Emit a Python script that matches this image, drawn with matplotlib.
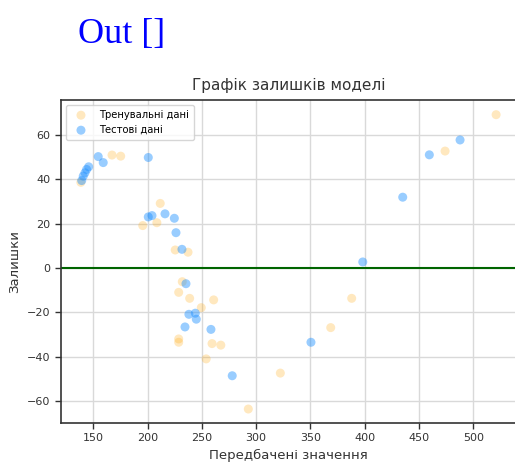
import matplotlib
matplotlib.use("Agg")
import matplotlib.pyplot as plt

# Training residuals: predicted value, residual
train_pred = [138.6, 167.3, 175.3, 211.7, 208.6, 195.6, 225.5, 237.3, 232.0, 228.7,
              238.8, 260.9, 249.5, 228.7, 228.7, 259.4, 267.5, 254.0, 292.8, 322.3,
              368.7, 388.0, 474.0, 521.0]
train_resid = [38.6, 50.9, 50.4, 29.1, 20.4, 19.1, 8.1, 7.1, -6.2, -11.0,
               -13.7, -14.4, -17.9, -32.0, -33.5, -34.1, -34.8, -41.0, -63.6, -47.4,
               -26.9, -13.7, 52.7, 69.1]

# Test residuals: predicted value, residual
test_pred = [145.8, 143.9, 142.4, 140.8, 139.4, 154.6, 159.2, 200.7, 200.7, 204.1,
             216.1, 224.7, 226.2, 231.7, 235.4, 238.1, 244.0, 244.9, 234.5, 258.4,
             278.0, 350.5, 398.2, 435.0, 459.5, 487.8]
test_resid = [45.6, 44.4, 42.9, 41.4, 39.4, 50.2, 47.5, 49.8, 23.0, 23.6,
              24.4, 22.4, 15.9, 8.4, -7.1, -20.9, -20.4, -23.1, -26.6, -27.7,
              -48.6, -33.5, 2.7, 31.9, 51.0, 57.7]

x_ticks = [150, 200, 250, 300, 350, 400, 450, 500]
y_ticks = [-60, -40, -20, 0, 20, 40, 60]

fig = plt.figure(figsize=(5.15, 4.63), dpi=100)
fig.text(0.151, 0.907, "Out []", color="blue", fontsize=26,
         family="Liberation Serif", va="baseline")

ax = fig.add_axes([0.1184, 0.0864, 0.885, 0.698])
ax.scatter(train_pred, train_resid, color="orange", alpha=0.25, s=42,
           edgecolors="none", label="Тренувальні дані", zorder=3)
ax.scatter(test_pred, test_resid, color="dodgerblue", alpha=0.45, s=42,
           edgecolors="none", label="Тестові дані", zorder=3)
ax.axhline(0, color="darkgreen", linewidth=1.5, zorder=2)

ax.set_xlim(120.3, 540)
ax.set_ylim(-69.9, 75.8)
ax.set_xticks(x_ticks)
ax.set_yticks(y_ticks)
ax.grid(True, color="#d9d9d9", linewidth=1.0, zorder=0)
ax.set_axisbelow(True)
ax.tick_params(direction="out", length=4, width=1, labelsize=8,
               labelcolor="#333333", color="#333333")
for s in ax.spines.values():
    s.set_color("#333333")
    s.set_linewidth(1.2)

ax.set_title("Графік залишків моделі", fontsize=11, color="#333333", pad=7)
ax.set_xlabel("Передбачені значення", fontsize=9.5, color="#333333")
ax.set_ylabel("Залишки", fontsize=9.5, color="#333333")
ax.legend(loc="upper left", fontsize=7.2, frameon=True, framealpha=0.8,
          edgecolor="#cccccc", borderpad=0.5)

fig.savefig("out.png", dpi=100)
